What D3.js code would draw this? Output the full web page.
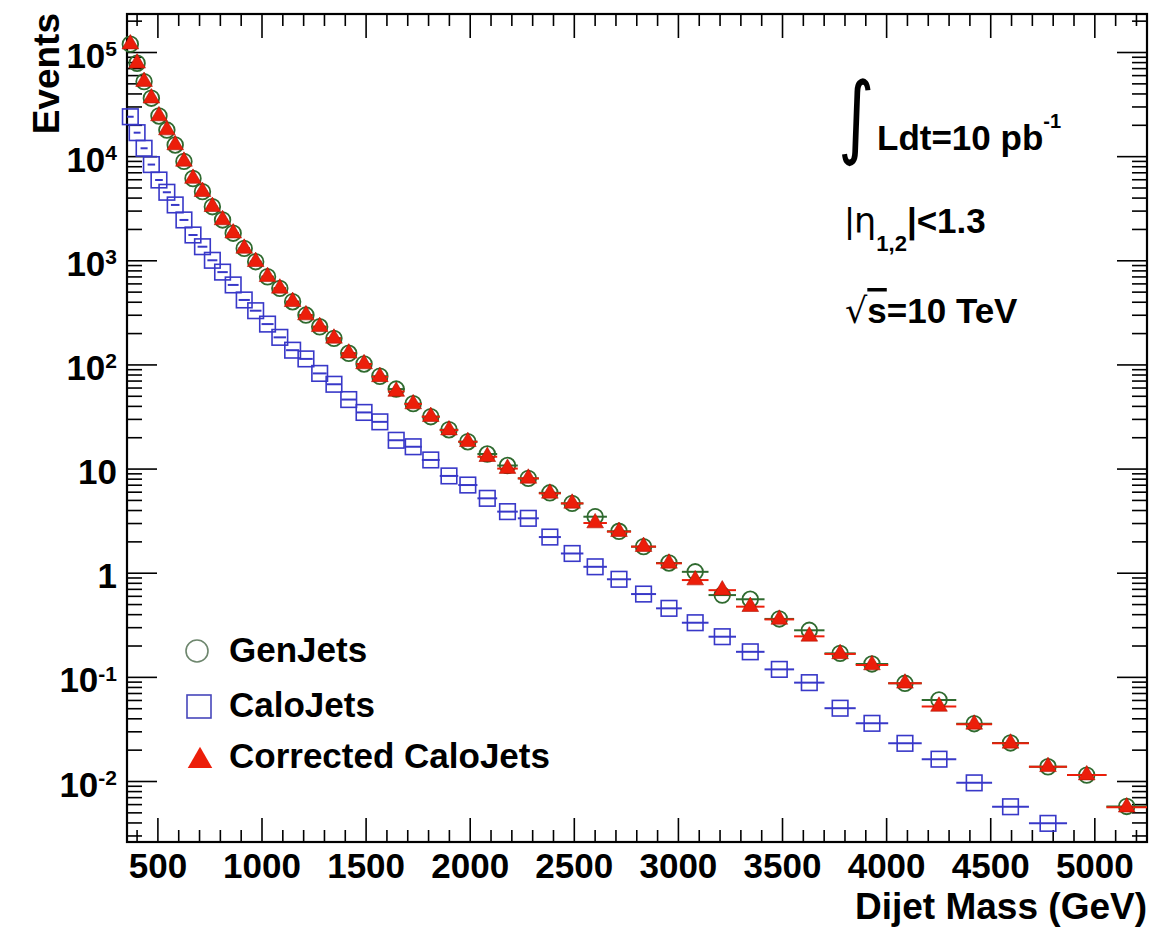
<!DOCTYPE html>
<html><head><meta charset="utf-8">
<script src="https://cdn.jsdelivr.net/npm/d3@7"></script>
<style>
body{margin:0;background:#fff}
text{font-family:"Liberation Sans",Arial,Helvetica,sans-serif;font-weight:bold;fill:#000}
</style>
</head><body>
<svg id="c" width="1152" height="928"></svg>
<script>
// ---- data ----
const binEdges = [354,386,419,453,489,526,565,606,649,693,740,788,838,890,944,1000,1058,1118,1181,1246,1313,1383,1455,1530,1607,1687,1770,1856,1945,2037,2132,2231,2332,2438,2546,2659,2775,2895,3019,3147,3279,3416,3558,3704,3854,4010,4171,4337,4509,4686,4869,5058,5253];

const genJets = [1.19e5,7.8e4,5.2e4,3.6e4,2.43e4,1.78e4,1.28e4,8.9e3,6.1e3,4.56e3,
 3.27e3,2.44e3,1.82e3,1.30e3,969,695,538,400,298,230,
 178,128,101,77,58,42,31.5,23.6,18.1,13.8,
 10.7,8.05,5.85,4.63,3.45,2.5,1.78,1.24,1.02,0.61,
 0.556,0.36,0.28,0.168,0.133,0.0867,0.060,0.0355,0.0232,0.0137,
 0.0114,0.0057];

const caloJets = [2.39e4,1.68e4,1.19e4,8.3e3,5.9e3,4.5e3,3.4e3,2.44e3,1.75e3,1.35e3,
 1.0e3,770,580,416,328,244,182,137,113,82,
 64.5,46,34.6,28.1,18.7,16.2,12.1,8.5,6.95,5.18,
 3.86,3.33,2.2,1.53,1.14,0.865,0.624,0.455,0.331,0.243,
 0.174,0.118,0.088,0.050,0.0358,0.0230,0.0162,0.0096,0.00566,0.00392,
 null,null];

const corrCaloJets = [1.19e5,7.8e4,5.2e4,3.6e4,2.43e4,1.78e4,1.28e4,8.9e3,6.1e3,4.56e3,
 3.27e3,2.44e3,1.82e3,1.30e3,969,695,538,400,298,230,
 178,128,101,76,55,41.7,31.5,23.4,18.1,13.0,
 10.0,8.05,5.78,4.63,3.0,2.48,1.78,1.23,0.85,0.68,
 0.472,0.356,0.245,0.166,0.13,0.0867,0.052,0.035,0.023,0.0137,
 0.0114,0.0056];

const xMajorTicks = [500,1000,1500,2000,2500,3000,3500,4000,4500,5000];
const xTickLabels = ["500","1000","1500","2000","2500","3000","3500","4000","4500","5000"];
const yMajorTicks = [1e-2,1e-1,1,10,1e2,1e3,1e4,1e5];
const yTickBase = ["10","10","1","10","10","10","10","10"];
const yTickExp  = ["-2","-1","","","2","3","4","5"];
const legendLabels = ["GenJets","CaloJets","Corrected CaloJets"];

// ---- layout ----
const L = 127, R = 1147, T = 14, B = 842;
const xDomain = [354, 5253];
const yDomain = [2.596e-3, 2.317e5];

const svg = d3.select("#c");
const x = d3.scaleLinear().domain(xDomain).range([L, R]);
const y = d3.scaleLog().domain(yDomain).range([B, T]);

const COL_GEN = "#2f6a2f", COL_CALO = "#3838c8", COL_CORR = "#ec1e0a";

// minor ticks
const xMinor = d3.range(400, 5253, 100).filter(v => v % 500 !== 0);
const yMinor = [];
for (let e = -3; e <= 5; e++) for (let m = 2; m <= 9; m++) { const v = m * Math.pow(10, e); if (v > yDomain[0] && v < yDomain[1]) yMinor.push(v); }

function axisStyle(g) { g.select(".domain").remove(); g.selectAll("line").attr("stroke", "#000").attr("stroke-width", 1.6); }

svg.append("g").attr("transform", `translate(0,${B})`)
  .call(d3.axisBottom(x).tickValues(xMajorTicks).tickSize(-24).tickSizeOuter(0).tickPadding(11).tickFormat((d,i)=>xTickLabels[i]))
  .call(axisStyle)
  .selectAll("text").attr("font-size", 35).attr("font-family", '"Liberation Sans",Arial,sans-serif').attr("font-weight","bold").attr("fill","#000");
svg.append("g").attr("transform", `translate(0,${B})`)
  .call(d3.axisBottom(x).tickValues(xMinor).tickSize(-12).tickSizeOuter(0).tickFormat("")).call(axisStyle);
svg.append("g").attr("transform", `translate(0,${T})`)
  .call(d3.axisTop(x).tickValues(xMajorTicks).tickSize(-24).tickSizeOuter(0).tickFormat("")).call(axisStyle);
svg.append("g").attr("transform", `translate(0,${T})`)
  .call(d3.axisTop(x).tickValues(xMinor).tickSize(-12).tickSizeOuter(0).tickFormat("")).call(axisStyle);

svg.append("g").attr("transform", `translate(${L},0)`)
  .call(d3.axisLeft(y).tickValues(yMajorTicks).tickSize(-30).tickSizeOuter(0).tickFormat("")).call(axisStyle);
svg.append("g").attr("transform", `translate(${L},0)`)
  .call(d3.axisLeft(y).tickValues(yMinor).tickSize(-15).tickSizeOuter(0).tickFormat("")).call(axisStyle);
svg.append("g").attr("transform", `translate(${R},0)`)
  .call(d3.axisRight(y).tickValues(yMajorTicks).tickSize(-30).tickSizeOuter(0).tickFormat("")).call(axisStyle);
svg.append("g").attr("transform", `translate(${R},0)`)
  .call(d3.axisRight(y).tickValues(yMinor).tickSize(-15).tickSizeOuter(0).tickFormat("")).call(axisStyle);

// frame
svg.append("rect").attr("x", L).attr("y", T).attr("width", R - L).attr("height", B - T)
  .attr("fill", "none").attr("stroke", "#000").attr("stroke-width", 2.2);

// y tick labels
yMajorTicks.forEach((v, i) => {
  const t = svg.append("text").attr("x", 117).attr("y", y(v) + 15.5).attr("text-anchor", "end").attr("font-size", 35);
  t.append("tspan").text(yTickBase[i]);
  if (yTickExp[i]) t.append("tspan").attr("dy", -11.5).attr("font-size", 21).text(yTickExp[i]);
});

// axis titles
svg.append("text").attr("x", R).attr("y", 919).attr("text-anchor", "end").attr("font-size", 37).text("Dijet Mass (GeV)");
svg.append("text").attr("transform", "translate(59,13) rotate(-90)").attr("text-anchor", "end").attr("font-size", 37).text("Events");

// series helpers
const bins = d3.range(binEdges.length - 1).map(i => ({ lo: binEdges[i], hi: binEdges[i + 1], c: (binEdges[i] + binEdges[i + 1]) / 2 }));
function seriesData(vals) { return bins.map((b, i) => ({ ...b, v: vals[i] })).filter(d => d.v != null); }

const plot = svg.append("g");
function bars(vals, col) {
  plot.append("g").selectAll("line").data(seriesData(vals)).join("line")
    .attr("x1", d => x(d.lo)).attr("x2", d => x(d.hi)).attr("y1", d => y(d.v)).attr("y2", d => y(d.v))
    .attr("stroke", col).attr("stroke-width", 2);
}

// GenJets
bars(genJets, COL_GEN);
plot.append("g").selectAll("circle").data(seriesData(genJets)).join("circle")
  .attr("cx", d => x(d.c)).attr("cy", d => y(d.v)).attr("r", 7.8)
  .attr("fill", "none").attr("stroke", COL_GEN).attr("stroke-width", 1.8);

// CaloJets
bars(caloJets, COL_CALO);
plot.append("g").selectAll("rect").data(seriesData(caloJets)).join("rect")
  .attr("x", d => x(d.c) - 7.8).attr("y", d => y(d.v) - 7.8).attr("width", 15.6).attr("height", 15.6)
  .attr("fill", "none").attr("stroke", COL_CALO).attr("stroke-width", 1.6);

// Corrected CaloJets
bars(corrCaloJets, COL_CORR);
const tri = d3.symbol().type(d3.symbolTriangle).size(120);
plot.append("g").selectAll("path").data(seriesData(corrCaloJets)).join("path")
  .attr("d", tri).attr("transform", d => `translate(${x(d.c)},${y(d.v)})`)
  .attr("fill", COL_CORR).attr("stroke", "#b01000").attr("stroke-width", 0.6);

// legend
const lg = svg.append("g");
lg.append("circle").attr("cx", 197).attr("cy", 651).attr("r", 11).attr("fill", "none").attr("stroke", "#6d866d").attr("stroke-width", 1.6);
lg.append("rect").attr("x", 187).attr("y", 695).attr("width", 24).attr("height", 23).attr("fill", "none").attr("stroke", "#4646bb").attr("stroke-width", 1.6);
lg.append("path").attr("d", d3.symbol().type(d3.symbolTriangle).size(260)).attr("transform", "translate(200,761)").attr("fill", COL_CORR);
const legY = [662, 717, 768];
legendLabels.forEach((s, i) => lg.append("text").attr("x", 229).attr("y", legY[i]).attr("font-size", 35).text(s));

// annotations
const an = svg.append("g");
an.append("text").attr("x", 838).attr("y", 113).attr("font-size", 70)
  .style("font-weight", "normal").style("font-family", '"DejaVu Sans",sans-serif')
  .attr("transform", "scale(1,1.3)").attr("transform-origin", "0 0").text("∫");
const t1 = an.append("text").attr("x", 877).attr("y", 150).attr("font-size", 35);
t1.append("tspan").text("Ldt=10 pb");
t1.append("tspan").attr("dy", -22).attr("font-size", 20).text("-1");

const t2 = an.append("text").attr("x", 845).attr("y", 233).attr("font-size", 35);
t2.append("tspan").style("font-weight", "normal").text("|");
t2.append("tspan").style("font-weight", "normal").style("font-family", '"DejaVu Sans",sans-serif').text("η");
t2.append("tspan").attr("dy", 18).attr("font-size", 22).text("1,2");
t2.append("tspan").attr("dy", -18).text("|<1.3");

const t3 = an.append("text").attr("x", 845).attr("y", 323).attr("font-size", 35);
t3.append("tspan").style("font-weight", "normal").style("font-family", '"DejaVu Sans",sans-serif').text("√");
t3.append("tspan").style("text-decoration", "overline").text("s");
t3.append("tspan").text("=10 TeV");
</script>
</body></html>
